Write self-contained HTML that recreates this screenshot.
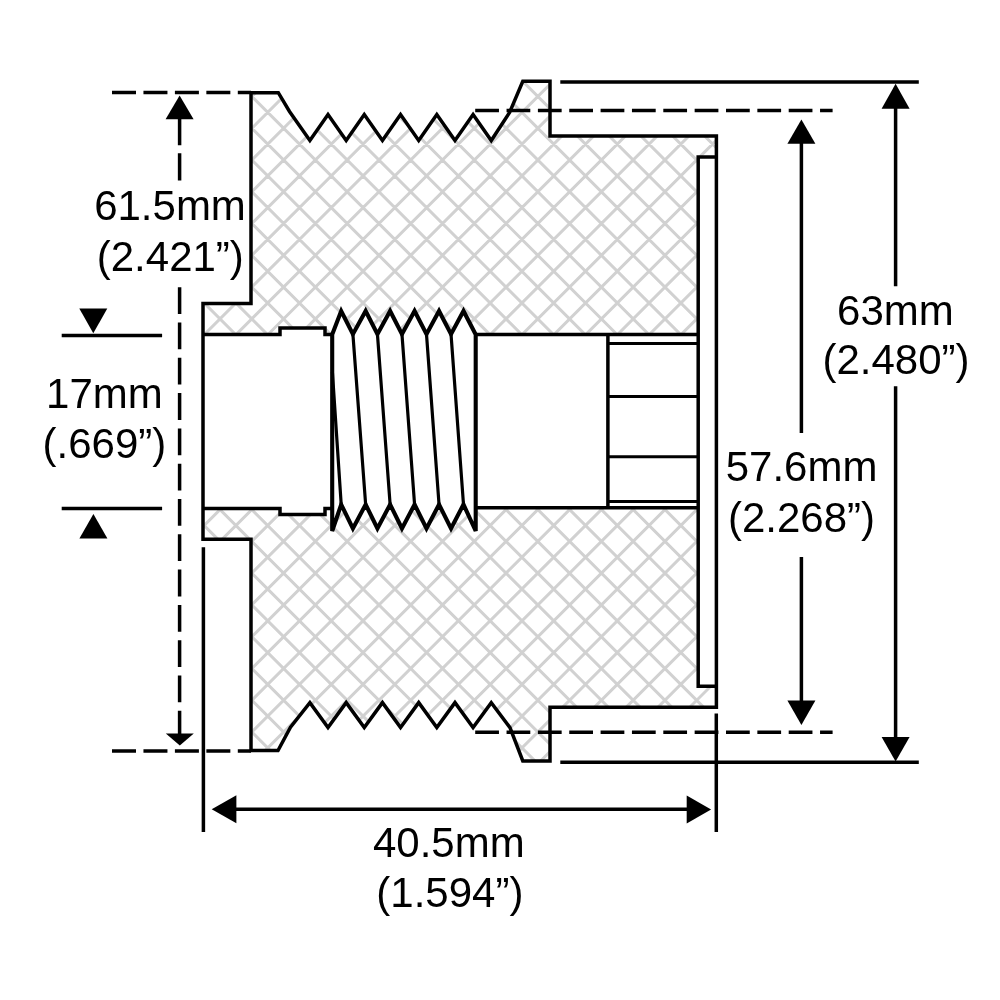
<!DOCTYPE html>
<html lang="en"><head><meta charset="utf-8"><title>Pulley dimensions</title>
<style>
html,body{margin:0;padding:0;background:#fff;}
body{width:1000px;height:1000px;overflow:hidden;}
svg{display:block;will-change:transform;}
text{font-family:"Liberation Sans",Arial,Helvetica,sans-serif;font-size:42px;fill:#000;text-anchor:middle;}
</style></head><body>
<svg width="1000" height="1000" viewBox="0 0 1000 1000">
<defs><clipPath id="body"><path d="M251 92.7 L278.3 92.7 L289.5 111.5 L309.9 140.5 L328 114.5 L346.17 140.5 L364.27 114.5 L382.44 140.5 L400.54 114.5 L418.71 140.5 L436.81 114.5 L454.98 140.5 L473.08 114.5 L491.25 140.5 L509.6 112.4 L522.8 81.2 L550 81.2 L550 136 L716.4 136 L716.4 707.2 L550 707.2 L550 761 L522.8 761 L510 727.6 L491.25 702.6 L473.08 727.6 L454.98 702.6 L436.81 727.6 L418.71 702.6 L400.54 727.6 L382.44 702.6 L364.27 727.6 L346.17 702.6 L328 727.6 L309.9 702.6 L290.5 727.1 L278 750.6 L251 750.6 L251 539.3 L203 539.3 L203 303.5 L251 303.5 Z"/></clipPath></defs>
<rect width="1000" height="1000" fill="#fff"/>
<g clip-path="url(#body)"><path d="M190 -473.86L730 66.14M190 -442.08L730 97.92M190 -410.3L730 129.7M190 -378.52L730 161.48M190 -346.74L730 193.26M190 -314.96L730 225.04M190 -283.18L730 256.82M190 -251.4L730 288.6M190 -219.62L730 320.38M190 -187.84L730 352.16M190 -156.06L730 383.94M190 -124.28L730 415.72M190 -92.5L730 447.5M190 -60.72L730 479.28M190 -28.94L730 511.06M190 2.84L730 542.84M190 34.62L730 574.62M190 66.4L730 606.4M190 98.18L730 638.18M190 129.96L730 669.96M190 161.74L730 701.74M190 193.52L730 733.52M190 225.3L730 765.3M190 257.08L730 797.08M190 288.86L730 828.86M190 320.64L730 860.64M190 352.42L730 892.42M190 384.2L730 924.2M190 415.98L730 955.98M190 447.76L730 987.76M190 479.54L730 1019.54M190 511.32L730 1051.32M190 543.1L730 1083.1M190 574.88L730 1114.88M190 606.66L730 1146.66M190 638.44L730 1178.44M190 670.22L730 1210.22M190 702L730 1242M190 733.78L730 1273.78M190 765.56L730 1305.56M190 62.92L730 -477.08M190 94.7L730 -445.3M190 126.48L730 -413.52M190 158.26L730 -381.74M190 190.04L730 -349.96M190 221.82L730 -318.18M190 253.6L730 -286.4M190 285.38L730 -254.62M190 317.16L730 -222.84M190 348.94L730 -191.06M190 380.72L730 -159.28M190 412.5L730 -127.5M190 444.28L730 -95.72M190 476.06L730 -63.94M190 507.84L730 -32.16M190 539.62L730 -0.38M190 571.4L730 31.4M190 603.18L730 63.18M190 634.96L730 94.96M190 666.74L730 126.74M190 698.52L730 158.52M190 730.3L730 190.3M190 762.08L730 222.08M190 793.86L730 253.86M190 825.64L730 285.64M190 857.42L730 317.42M190 889.2L730 349.2M190 920.98L730 380.98M190 952.76L730 412.76M190 984.54L730 444.54M190 1016.32L730 476.32M190 1048.1L730 508.1M190 1079.88L730 539.88M190 1111.66L730 571.66M190 1143.44L730 603.44M190 1175.22L730 635.22M190 1207L730 667M190 1238.78L730 698.78M190 1270.56L730 730.56M190 1302.34L730 762.34" fill="none" stroke="#d1d1d1" stroke-width="3"/></g>
<path d="M203 334.6 L280 334.6 L280 328 L325 328 L325 334.6 L332.2 334.6 L341.2 311 L352.9 334.2 L365.66 311 L377.43 334.2 L390.12 311 L401.96 334.2 L414.58 311 L426.49 334.2 L439.04 311 L451.02 334.2 L463.5 311 L475.7 334.6 L698.2 334.6 L698.2 156.9 L716.4 156.9 L716.4 686.3 L698.2 686.3 L698.2 507.8 L475.7 507.8 L475.7 531 L463.5 504.5 L451.02 528.5 L439.04 504.5 L426.49 528.5 L414.58 504.5 L401.96 528.5 L390.12 504.5 L377.43 528.5 L365.66 504.5 L352.9 528.5 L341.2 504.5 L332.2 531 L332.2 508.4 L325 508.4 L325 514.6 L280 514.6 L280 508.4 L203 508.4 Z" fill="#fff" stroke="none"/>
<g fill="none" stroke="#000" stroke-width="3.5" stroke-linejoin="miter" stroke-miterlimit="4">
<path d="M251 92.7 L278.3 92.7 L289.5 111.5 L309.9 140.5 L328 114.5 L346.17 140.5 L364.27 114.5 L382.44 140.5 L400.54 114.5 L418.71 140.5 L436.81 114.5 L454.98 140.5 L473.08 114.5 L491.25 140.5 L509.6 112.4 L522.8 81.2 L550 81.2 L550 136 L716.4 136 L716.4 707.2 L550 707.2 L550 761 L522.8 761 L510 727.6 L491.25 702.6 L473.08 727.6 L454.98 702.6 L436.81 727.6 L418.71 702.6 L400.54 727.6 L382.44 702.6 L364.27 727.6 L346.17 702.6 L328 727.6 L309.9 702.6 L290.5 727.1 L278 750.6 L251 750.6 L251 539.3 L203 539.3 L203 303.5 L251 303.5 Z"/>
<path d="M332.2 334.6H325V328H280V334.6H203M332.2 508.4H325V514.6H280V508.4H203"/>
<path d="M475.7 334.6H698.2V156.9H716.4M475.7 507.8H698.2V686.3H716.4M698.2 334.6V507.8M607.9 334.6V507.8"/>
<path d="M332.2 334.6 L341.2 311 L352.9 334.2 L365.66 311 L377.43 334.2 L390.12 311 L401.96 334.2 L414.58 311 L426.49 334.2 L439.04 311 L451.02 334.2 L463.5 311 L475.7 334.6 L475.7 531 L463.5 504.5 L451.02 528.5 L439.04 504.5 L426.49 528.5 L414.58 504.5 L401.96 528.5 L390.12 504.5 L377.43 528.5 L365.66 504.5 L352.9 528.5 L341.2 504.5 L332.2 531 Z" stroke-width="4.1"/>
<path d="M607.9 343.4H698.2M607.9 396.6H698.2M607.9 456.8H698.2M607.9 501.6H698.2" stroke-width="3"/>
<path d="M352.9 334.2L365.66 504.5M377.43 334.2L390.12 504.5M401.96 334.2L414.58 504.5M426.49 334.2L439.04 504.5M451.02 334.2L463.5 504.5M332.4 372L341.2 504.5" stroke-width="3.2"/>
</g>
<g fill="none" stroke="#000" stroke-width="3.5">
<path d="M112 92.6H251M112 751H251" stroke-dasharray="24 7.45"/>
<path d="M179.6 118V181" stroke-dasharray="27.3 8"/>
<path d="M179.6 287.2V736" stroke-dasharray="26.8 8.5"/>
<path d="M61.7 335.5H162.1M61.7 508.4H162.1"/>
<path d="M560.3 82H918.8M560.3 762.3H918.8"/>
<path d="M475.2 110.5H832.6M475.2 732.3H832.6" stroke-dasharray="23.75 7.6"/>
<path d="M801.4 140V433M801.4 557V705"/>
<path d="M895.6 105V286.3M895.6 386.3V742"/>
<path d="M203.4 547.3V832.1M716.3 713.6V832"/>
<path d="M232 809.3H690"/>
</g>
<g fill="#000" stroke="none"><polygon points="179.6,95.5 165.6,119.3 193.6,119.3"/><polygon points="179.8,745.6 165.8,733.6 193.8,733.6"/><polygon points="93.3,333.2 79.3,308.4 107.3,308.4"/><polygon points="93.4,514 79.4,538.6 107.4,538.6"/><polygon points="801.4,119.5 787.4,143.8 815.4,143.8"/><polygon points="801.4,725.1 787.4,700.4 815.4,700.4"/><polygon points="895.6,83.8 881.6,108.8 909.6,108.8"/><polygon points="895.6,761.5 881.6,737.1 909.6,737.1"/><polygon points="211.7,809.3 236.4,795.3 236.4,823.3"/><polygon points="711.1,809.4 686.7,795.4 686.7,823.4"/></g>
<g><text x="170" y="220">61.5mm</text><text x="170.3" y="270.5">(2.421”)</text><text x="104.4" y="408">17mm</text><text x="104.4" y="458.4">(.669”)</text><text x="895.4" y="325.2">63mm</text><text x="896" y="374.4">(2.480”)</text><text x="801.6" y="481.4">57.6mm</text><text x="801.5" y="531.5">(2.268”)</text><text x="448.8" y="857.1">40.5mm</text><text x="449.9" y="907.1">(1.594”)</text></g>
</svg>
</body></html>
